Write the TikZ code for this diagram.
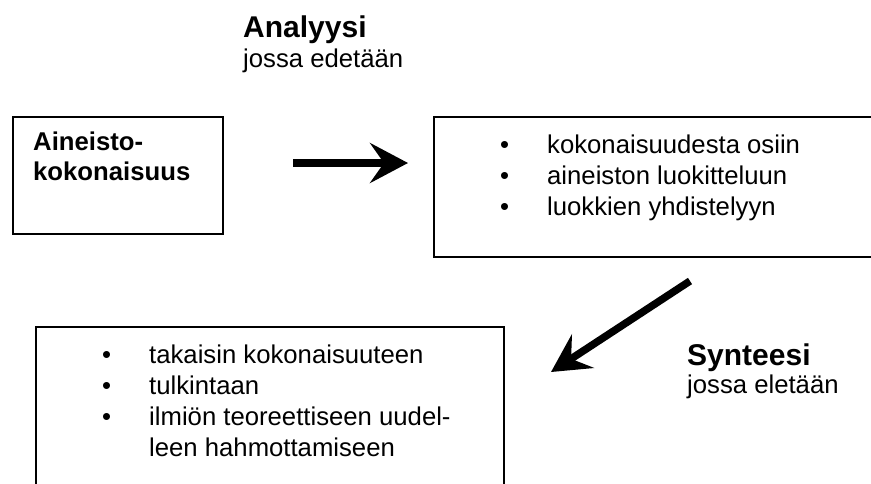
\documentclass[tikz,border=0pt]{standalone}
\usepackage{fontspec}
\setmainfont{Liberation Sans}
\usetikzlibrary{arrows.meta}
\tikzset{
  boxline/.style={draw=black, line width=1.7pt},
  txt/.style={anchor=base west, inner sep=0pt, font=\fontsize{25.7}{30.5}\selectfont},
  btxt/.style={anchor=base west, inner sep=0pt, font=\fontsize{25.7}{30.5}\selectfont\bfseries},
  ttl/.style={anchor=base west, inner sep=0pt, font=\fontsize{30}{34}\selectfont\bfseries},
  bigarrow/.style={line width=7.5pt, -{Stealth[length=38pt,width=40pt,inset=14pt]}},
}
\begin{document}
\begin{tikzpicture}[x=1pt,y=-1pt]
\path[use as bounding box, clip] (0,0) rectangle (871,483);
\fill[white] (0,0) rectangle (871,483);
% boxes
\node[boxline, minimum width=210pt, minimum height=117pt, anchor=north west, inner sep=0pt] (box1) at (12,116) {};
\node[boxline, minimum width=480pt, minimum height=140pt, anchor=north west, inner sep=0pt] (box2) at (433,116) {};
\node[boxline, minimum width=468pt, minimum height=200pt, anchor=north west, inner sep=0pt] (box3) at (35,326) {};
% titles
\node[ttl] (ana) at (243,37) {Analyysi};
\node[txt] (anasub) at (243,67) {jossa edetään};
\node[ttl] (syn) at (687,365) {Synteesi};
\node[txt] (synsub) at (687,393) {jossa eletään};
% box 1 text
\node[btxt] (b1a) at (33,150) {Aineisto-};
\node[btxt] (b1b) at (33,180) {kokonaisuus};
% box 2 text
\node[txt] (b2d1) at (500,153) {•};
\node[txt] (b2t1) at (547,153) {kokonaisuudesta osiin};
\node[txt] (b2d2) at (500,184) {•};
\node[txt] (b2t2) at (547,184) {aineiston luokitteluun};
\node[txt] (b2d3) at (500,215) {•};
\node[txt] (b2t3) at (547,215) {luokkien yhdistelyyn};
% box 3 text
\node[txt] (b3d1) at (102,363) {•};
\node[txt] (b3t1) at (149,363) {takaisin kokonaisuuteen};
\node[txt] (b3d2) at (102,394) {•};
\node[txt] (b3t2) at (149,394) {tulkintaan};
\node[txt] (b3d3) at (102,425) {•};
\node[txt] (b3t3) at (149,425) {ilmiön teoreettiseen uudel-};
\node[txt] (b3t4) at (149,456) {leen hahmottamiseen};
% arrows
\coordinate (a1s) at (293,163);
\coordinate (a1e) at (408,163);
\coordinate (a2s) at (690,281);
\coordinate (a2e) at (551,372);
\draw[bigarrow] (a1s) -- (a1e);
\draw[bigarrow] (a2s) -- (a2e);
\end{tikzpicture}
\end{document}
